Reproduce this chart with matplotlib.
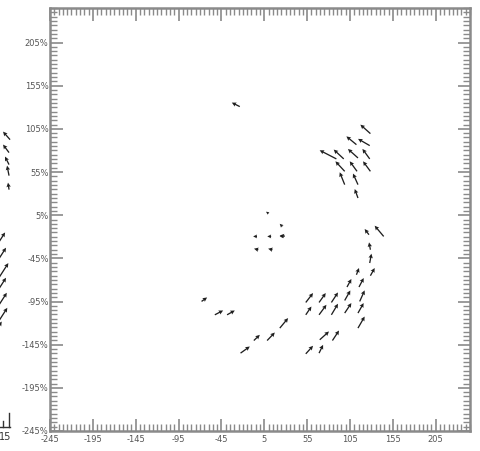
import numpy as np
import matplotlib.pyplot as plt
from matplotlib.lines import Line2D

# Vector field: tail positions and components (data units)
# north-east group, arrows pointing up-left
ne_x = [128.8, 112.5, 128.0, 89.1, 97.7, 114.3, 128.0, 98.8, 113.2, 128.8, 98.8, 114.3, 114.3]
ne_y = [99.5, 86.7, 85.6, 70.2, 70.2, 71.3, 70.2, 55.8, 55.8, 55.8, 40.4, 40.4, 24.9]
ne_u = [-11.7, -11.7, -13.6, -19.5, -11.7, -11.7, -8.5, -10.8, -8.5, -8.6, -5.8, -5.8, -3.8]
ne_v = [10.4, 9.6, 7.8, 10.0, 10.8, 10.4, 11.6, 11.6, 11.6, 11.6, 14.3, 12.8, 10.4]

# lone arrow near the top and the weak vectors near the centre
mid_x = [-23.6, 10.0, 26.0, 27.0, -3.5, 13.0, 29.0, -2.0, 14.5]
mid_y = [130.8, 7.0, -8.0, -19.6, -19.6, -19.6, -19.3, -35.0, -35.0]
mid_u = [-9.3, -3.0, -3.0, -4.0, -4.5, -4.5, -6.0, -5.0, -5.0]
mid_v = [4.6, 2.0, 3.0, 0.0, 0.0, 0.0, 0.8, 1.2, 1.2]

# eastern arc, turning from up-left to up-right
arc_x = [127.1, 144.3, 128.8, 128.0, 128.8, 112.5, 115.5, 101.5]
arc_y = [-17.6, -19.6, -35.0, -50.4, -65.1, -64.0, -78.2, -78.2]
arc_u = [-5.0, -10.5, -1.6, 2.0, 5.0, 3.0, 5.5, 5.1]
arc_v = [6.6, 12.4, 8.5, 10.8, 8.9, 7.8, 10.4, 9.3]

# southern group, arrows pointing up-right
s_x = [-68.2, -52.7, -38.4, 23.1, -7.2, 8.3, -22.7, 53.4, 68.9, 83.3, 98.8,
       116.3, 53.4, 68.9, 83.3, 98.8, 114.3, 114.3, 69.7, 84.5, 53.4, 68.9]
s_y = [-94.9, -110.4, -110.4, -125.8, -140.2, -140.2, -154.8, -96.1, -96.1, -96.1, -93.8,
       -94.9, -110.4, -110.4, -110.4, -108.4, -108.4, -125.8, -139.3, -140.2, -155.6, -154.8]
s_u = [6.5, 9.7, 9.0, 9.7, 7.0, 9.0, 10.8, 8.5, 7.8, 7.7, 6.6,
       5.8, 6.6, 8.6, 7.7, 7.8, 6.6, 7.8, 10.8, 7.7, 8.5, 4.7]
s_v = [4.6, 5.0, 5.0, 11.6, 6.6, 9.3, 7.7, 10.9, 10.9, 11.6, 11.6,
       12.8, 9.6, 11.6, 12.8, 11.6, 11.6, 13.4, 9.6, 11.6, 9.3, 9.6]

# western vectors beyond the plotted range
w_x = [-291.6, -292.8, -292.8, -292.8, -292.8,
       -307.9, -306.8, -304.1, -306.8, -305.9, -305.3, -311.8]
w_y = [92.5, 77.5, 63.6, 50.8, 34.6,
       -31.2, -48.9, -66.7, -83.7, -101.1, -118.5, -134.4]
w_u = [-8.2, -7.0, -4.7, -2.3, -1.2,
       10.5, 10.5, 10.5, 10.5, 10.5, 10.5, 10.5]
w_v = [9.3, 9.3, 9.3, 11.6, 8.1,
       16.2, 16.2, 16.2, 16.2, 16.2, 16.2, 16.2]

major_ticks = np.arange(-245, 206, 50)
x_labels = [str(t) for t in major_ticks]
y_labels = [f"{t}%" for t in major_ticks]

X = np.array(ne_x + mid_x + arc_x + s_x + w_x)
Y = np.array(ne_y + mid_y + arc_y + s_y + w_y)
U = np.array(ne_u + mid_u + arc_u + s_u + w_u)
V = np.array(ne_v + mid_v + arc_v + s_v + w_v)

fig = plt.figure(figsize=(4.8, 4.51), dpi=100)
ax = fig.add_axes([50 / 480, 20 / 451, 420 / 480, 423 / 451])

q = ax.quiver(X, Y, U, V, angles='xy', scale_units='xy', scale=1,
              units='dots', width=1.3, headwidth=3.4, headlength=3.4,
              headaxislength=3.0, minlength=0.5, color='#1e1e1e')
q.set_clip_on(False)

ax.set_xlim(-245, 245)
ax.set_ylim(-245, 245)

grey = '#8a8a8a'
for s in ax.spines.values():
    s.set_color(grey)
    s.set_linewidth(1.8)

ax.set_xticks(major_ticks)
ax.set_yticks(major_ticks)
ax.set_xticks(np.arange(-245, 246, 5), minor=True)
ax.set_yticks(np.arange(-245, 246, 5), minor=True)
ax.set_xticklabels(x_labels)
ax.set_yticklabels(y_labels)
ax.tick_params(which='both', direction='in', top=True, right=True, colors=grey,
               labelcolor='#555555', labelsize=6)
ax.tick_params(which='major', length=9, width=1.2)
ax.tick_params(which='minor', length=5, width=1.0)
ax.tick_params(axis='x', pad=3)
ax.tick_params(axis='y', pad=1)

# small reference scale at the lower left edge
fig.add_artist(Line2D([-5 / 480, 10 / 480], [24 / 451, 24 / 451], color='#333333', lw=1))
fig.add_artist(Line2D([3 / 480, 3 / 480], [24 / 451, 30 / 451], color='#333333', lw=1))
fig.add_artist(Line2D([9 / 480, 9 / 480], [24 / 451, 38 / 451], color='#333333', lw=1))
fig.text(11 / 480, 14 / 451, "15", fontsize=7, color='#333333', ha='right', va='center')

fig.savefig("out.png", dpi=100)
